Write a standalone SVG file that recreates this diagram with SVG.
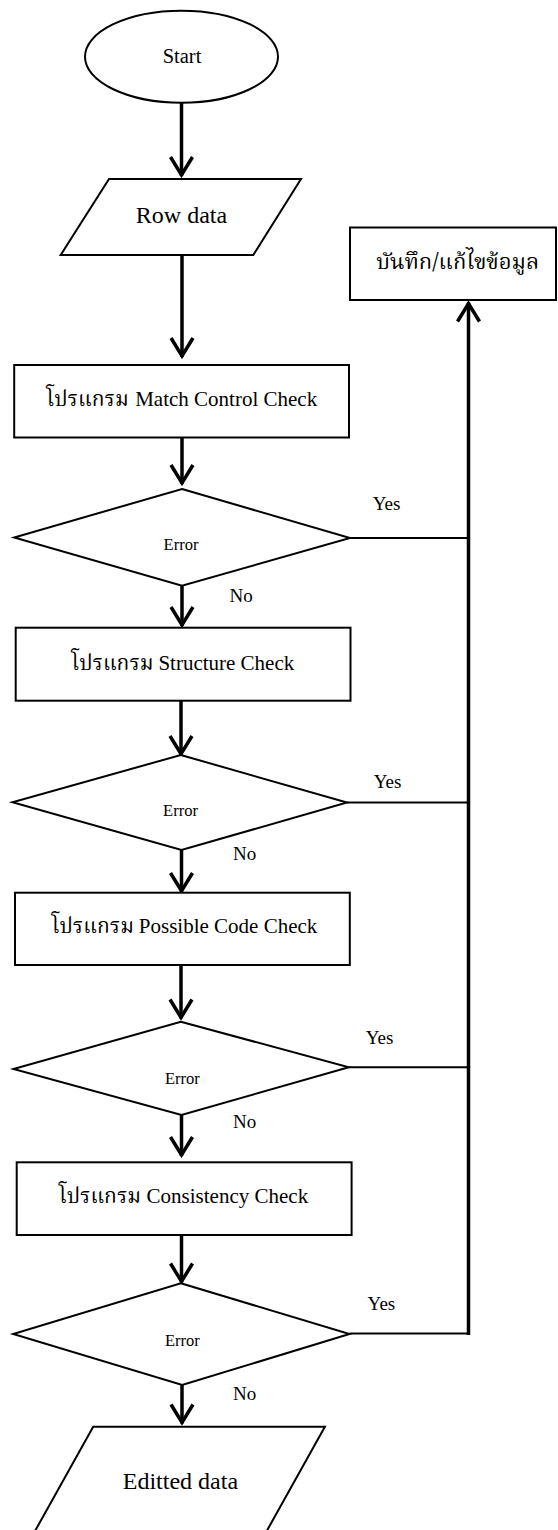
<svg xmlns="http://www.w3.org/2000/svg" width="558" height="1530" viewBox="0 0 558 1530">
<style>
.shape{fill:#fff;stroke:#000;stroke-width:2}
.lbl{font-family:'Liberation Serif','Times New Roman',serif;fill:#000}
.th{font-family:'Noto Serif Thai','Noto Sans Thai','Liberation Serif',serif;fill:#000}
.flow{fill:none;stroke:#000;stroke-width:3.5}
.thin{fill:none;stroke:#000;stroke-width:2}
</style>
<defs>
<marker id="ah" markerUnits="userSpaceOnUse" viewBox="0 0 26 24" markerWidth="26" markerHeight="24" refX="22" refY="12" orient="auto" overflow="visible">
<path d="M3,1 L21,12 L3,23" fill="none" stroke="#000" stroke-width="3.5"/>
</marker>
</defs>
<g id="connectors">
<line class="flow" x1="181.5" y1="103" x2="181.5" y2="176" marker-end="url(#ah)"/>
<line class="flow" x1="182" y1="255" x2="182" y2="357" marker-end="url(#ah)"/>
<line class="flow" x1="182" y1="437.5" x2="182" y2="484" marker-end="url(#ah)"/>
<line class="flow" x1="182" y1="585.7" x2="182" y2="626" marker-end="url(#ah)"/>
<line class="flow" x1="181" y1="700.7" x2="181" y2="755" marker-end="url(#ah)"/>
<line class="flow" x1="181.5" y1="850" x2="181.5" y2="892" marker-end="url(#ah)"/>
<line class="flow" x1="181" y1="965" x2="181" y2="1018.5" marker-end="url(#ah)"/>
<line class="flow" x1="181.5" y1="1115" x2="181.5" y2="1156" marker-end="url(#ah)"/>
<line class="flow" x1="181.5" y1="1235" x2="181.5" y2="1282.5" marker-end="url(#ah)"/>
<line class="flow" x1="182" y1="1385" x2="182" y2="1423.5" marker-end="url(#ah)"/>
<line class="thin" x1="350" y1="538" x2="468.5" y2="538"/>
<line class="thin" x1="347" y1="802.5" x2="468.5" y2="802.5"/>
<line class="thin" x1="348.8" y1="1067.3" x2="468.5" y2="1067.3"/>
<line class="thin" x1="349.5" y1="1333.5" x2="468.5" y2="1333.5"/>
<line class="flow" x1="468.5" y1="1335" x2="468.5" y2="302.5" marker-end="url(#ah)"/>
<text class="lbl" style="font-family:'Liberation Serif',serif" x="372.7" y="510" font-size="19">Yes</text>
<text class="lbl" style="font-family:'Liberation Serif',serif" x="229.5" y="601.7" font-size="19">No</text>
<text class="lbl" style="font-family:'Liberation Serif',serif" x="373.7" y="788.3" font-size="19">Yes</text>
<text class="lbl" style="font-family:'Liberation Serif',serif" x="233" y="860" font-size="19">No</text>
<text class="lbl" style="font-family:'Liberation Serif',serif" x="365.8" y="1044.3" font-size="19">Yes</text>
<text class="lbl" style="font-family:'Liberation Serif',serif" x="233" y="1128.3" font-size="19">No</text>
<text class="lbl" style="font-family:'Liberation Serif',serif" x="367.6" y="1310" font-size="19">Yes</text>
<text class="lbl" style="font-family:'Liberation Serif',serif" x="233" y="1400" font-size="19">No</text>
</g>
<g id="start">
<ellipse class="shape" cx="181.5" cy="56.7" rx="96.5" ry="46"/>
<text class="lbl" style="font-family:'Liberation Serif',serif" x="182" y="63.3" font-size="20.5" text-anchor="middle">Start</text>
</g>
<g id="row-data">
<polygon class="shape" points="109,179 301,179 253.3,255 60.7,255"/>
<text class="lbl" style="font-family:'Liberation Serif',serif" x="181.5" y="223.3" font-size="24" text-anchor="middle">Row data</text>
</g>
<g id="record-edit">
<rect class="shape" x="350" y="227.5" width="206" height="72.5"/>
<text class="th" x="457.7" y="269" font-size="22" text-anchor="middle">บันทึก/แก้ไขข้อมูล</text>
</g>
<g id="match-control">
<rect class="shape" x="14.2" y="365" width="334.8" height="72.5"/>
<text class="lbl" style="font-family:'Liberation Serif',serif" y="406" font-size="21"><tspan class="th" x="46.3">โปรแกรม</tspan><tspan x="135.2">Match Control Check</tspan></text>
</g>
<g id="error1">
<polygon class="shape" points="182,489 350,538 182,585.7 14.2,537.5"/>
<text class="lbl" style="font-family:'Liberation Serif',serif" x="181" y="550" font-size="16.5" text-anchor="middle">Error</text>
</g>
<g id="structure">
<rect class="shape" x="15.7" y="627.7" width="334.8" height="73"/>
<text class="lbl" style="font-family:'Liberation Serif',serif" y="670" font-size="21"><tspan class="th" x="71.2">โปรแกรม</tspan><tspan x="158.4">Structure Check</tspan></text>
</g>
<g id="error2">
<polygon class="shape" points="180.8,755 347,802.5 181.5,850 12.5,802.3"/>
<text class="lbl" style="font-family:'Liberation Serif',serif" x="180.5" y="816" font-size="16.5" text-anchor="middle">Error</text>
</g>
<g id="possible-code">
<rect class="shape" x="15" y="892.7" width="334.8" height="72.3"/>
<text class="lbl" style="font-family:'Liberation Serif',serif" y="933.3" font-size="21"><tspan class="th" x="51.6">โปรแกรม</tspan><tspan x="138.8">Possible Code Check</tspan></text>
</g>
<g id="error3">
<polygon class="shape" points="180.8,1021.7 348.8,1067.3 181.5,1115 13.5,1069"/>
<text class="lbl" style="font-family:'Liberation Serif',serif" x="182.4" y="1084" font-size="16.5" text-anchor="middle">Error</text>
</g>
<g id="consistency">
<rect class="shape" x="16.7" y="1162.3" width="334.9" height="72.7"/>
<text class="lbl" style="font-family:'Liberation Serif',serif" y="1203.3" font-size="21"><tspan class="th" x="58.7">โปรแกรม</tspan><tspan x="146.6">Consistency Check</tspan></text>
</g>
<g id="error4">
<polygon class="shape" points="180.8,1283.3 349.5,1334 182.2,1385 13.2,1334"/>
<text class="lbl" style="font-family:'Liberation Serif',serif" x="182.4" y="1346" font-size="16.5" text-anchor="middle">Error</text>
</g>
<g id="editted-data">
<polygon class="shape" points="93.2,1426.7 324.9,1426.7 264.5,1535 32.8,1535"/>
<text class="lbl" style="font-family:'Liberation Serif',serif" x="180.4" y="1489" font-size="24" text-anchor="middle">Editted data</text>
</g>
</svg>
